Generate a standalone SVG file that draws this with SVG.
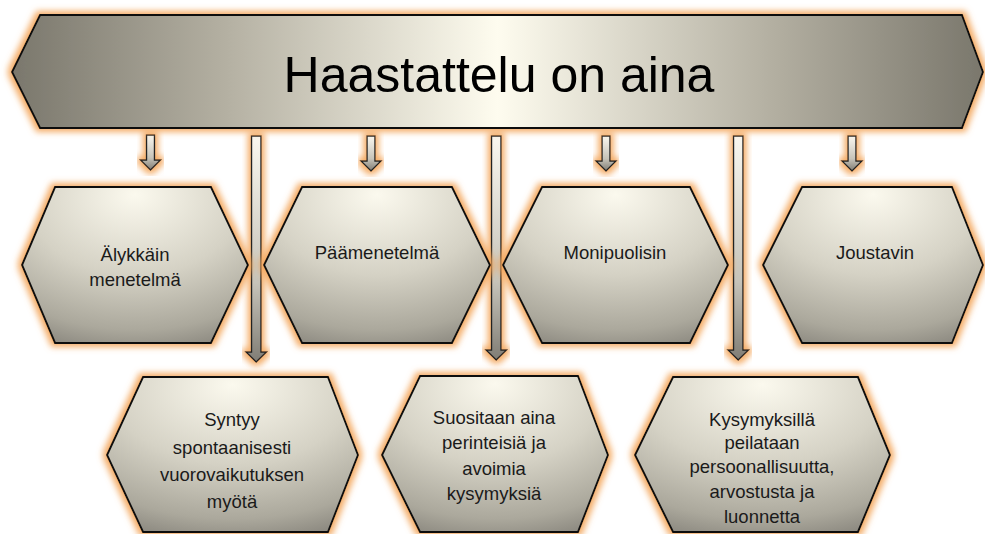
<svg xmlns="http://www.w3.org/2000/svg" width="985" height="534" viewBox="0 0 985 534">
  <defs>
    <linearGradient id="bannerFill" x1="0" y1="0" x2="1" y2="0">
      <stop offset="0" stop-color="#7a776c"/>
      <stop offset="0.22" stop-color="#b4b0a2"/>
      <stop offset="0.5" stop-color="#fefcef"/>
      <stop offset="0.78" stop-color="#b4b0a2"/>
      <stop offset="1" stop-color="#7a776c"/>
    </linearGradient>
    <radialGradient id="hexFill" cx="0.5" cy="0.12" r="0.95" fx="0.5" fy="0.05">
      <stop offset="0" stop-color="#fbf9ee"/>
      <stop offset="0.5" stop-color="#d5d2c5"/>
      <stop offset="0.85" stop-color="#aba89c"/>
      <stop offset="1" stop-color="#8c8980"/>
    </radialGradient>
    <linearGradient id="arrowFill" x1="0" y1="0" x2="0" y2="1">
      <stop offset="0" stop-color="#f9f7ef"/>
      <stop offset="0.65" stop-color="#c6c3b9"/>
      <stop offset="1" stop-color="#807d75"/>
    </linearGradient>
    <filter id="glow" x="-15%" y="-15%" width="130%" height="130%">
      <feMorphology in="SourceAlpha" operator="dilate" radius="3" result="d"/>
      <feGaussianBlur in="d" stdDeviation="3.2" result="b"/>
      <feFlood flood-color="#f3a457" flood-opacity="0.9"/>
      <feComposite in2="b" operator="in" result="g"/>
      <feMerge>
        <feMergeNode in="g"/>
        <feMergeNode in="SourceGraphic"/>
      </feMerge>
    </filter>
  </defs>
  <style>
    .hex { fill: url(#hexFill); stroke: #111; stroke-width: 2; stroke-linejoin: miter; filter: url(#glow); }
    .banner { fill: url(#bannerFill); stroke: #111; stroke-width: 2; filter: url(#glow); }
    .arrow { fill: url(#arrowFill); stroke: #222; stroke-width: 1.4; stroke-linejoin: miter; filter: url(#glow); }
    .lbl { font-family: "Liberation Sans", Arial, sans-serif; font-size: 18.5px; fill: #1a1a1a; text-anchor: middle; }
    .title { font-family: "Liberation Sans", Arial, sans-serif; font-size: 50px; fill: #000; text-anchor: middle; }
  </style>
  <rect width="985" height="534" fill="#ffffff"/>

  <g id="connectors">
    <path class="arrow" d="M146.5,135 H154.5 V160 H160.5 L150.5,170 L140.5,160 H146.5 Z"/>
    <path class="arrow" d="M367,136 H375 V161 H381 L371,171 L361,161 H367 Z"/>
    <path class="arrow" d="M602,136 H610 V161 H616 L606,171 L596,161 H602 Z"/>
    <path class="arrow" d="M848,136 H856 V161 H862 L852,171 L842,161 H848 Z"/>
    <path class="arrow" d="M251.5,136 H261 V352 H266.5 L256.2,362 L246,352 H251.5 Z"/>
    <path class="arrow" d="M491.5,136 H501 V350 H506.5 L496.2,360 L486,350 H491.5 Z"/>
    <path class="arrow" d="M733.5,136 H743 V350 H748.5 L738.2,360 L728,350 H733.5 Z"/>
  </g>

  <g id="banner">
    <polygon class="banner" points="12,72 40,15 962,15 983,72 962,128 40,128"/>
    <text class="title" x="499" y="92">Haastattelu on aina</text>
  </g>

  <g id="n1">
    <polygon class="hex" points="22,265 55,187 211,187 248,265 211,343 55,343"/>
    <text class="lbl" x="135" y="261">Älykkäin</text>
    <text class="lbl" x="135" y="286">menetelmä</text>
  </g>
  <g id="n2">
    <polygon class="hex" points="264,265 302,187 452,187 490,265 452,343 302,343"/>
    <text class="lbl" x="377" y="259">Päämenetelmä</text>
  </g>
  <g id="n3">
    <polygon class="hex" points="503,265 542,187 690,187 728,265 690,343 542,343"/>
    <text class="lbl" x="615" y="259">Monipuolisin</text>
  </g>
  <g id="n4">
    <polygon class="hex" points="763,265 802,187 952,187 983,265 952,343 802,343"/>
    <text class="lbl" x="875" y="259">Joustavin</text>
  </g>

  <g id="n5">
    <polygon class="hex" points="107,455 143,377 328,377 358,455 328,532 143,532"/>
    <text class="lbl" x="232" y="426">Syntyy</text>
    <text class="lbl" x="232" y="454">spontaanisesti</text>
    <text class="lbl" x="232" y="481">vuorovaikutuksen</text>
    <text class="lbl" x="232" y="508">myötä</text>
  </g>
  <g id="n6">
    <polygon class="hex" points="382,455 420,376 578,376 608,455 578,532 420,532"/>
    <text class="lbl" x="494" y="424">Suositaan aina</text>
    <text class="lbl" x="494" y="449">perinteisiä  ja</text>
    <text class="lbl" x="494" y="475">avoimia</text>
    <text class="lbl" x="494" y="500">kysymyksiä</text>
  </g>
  <g id="n7">
    <polygon class="hex" points="635,455 673,377 858,377 890,455 858,532 673,532"/>
    <text class="lbl" x="762" y="426">Kysymyksillä</text>
    <text class="lbl" x="762" y="449">peilataan</text>
    <text class="lbl" x="762" y="473">persoonallisuutta,</text>
    <text class="lbl" x="762" y="498">arvostusta ja</text>
    <text class="lbl" x="762" y="523">luonnetta</text>
  </g>
</svg>
